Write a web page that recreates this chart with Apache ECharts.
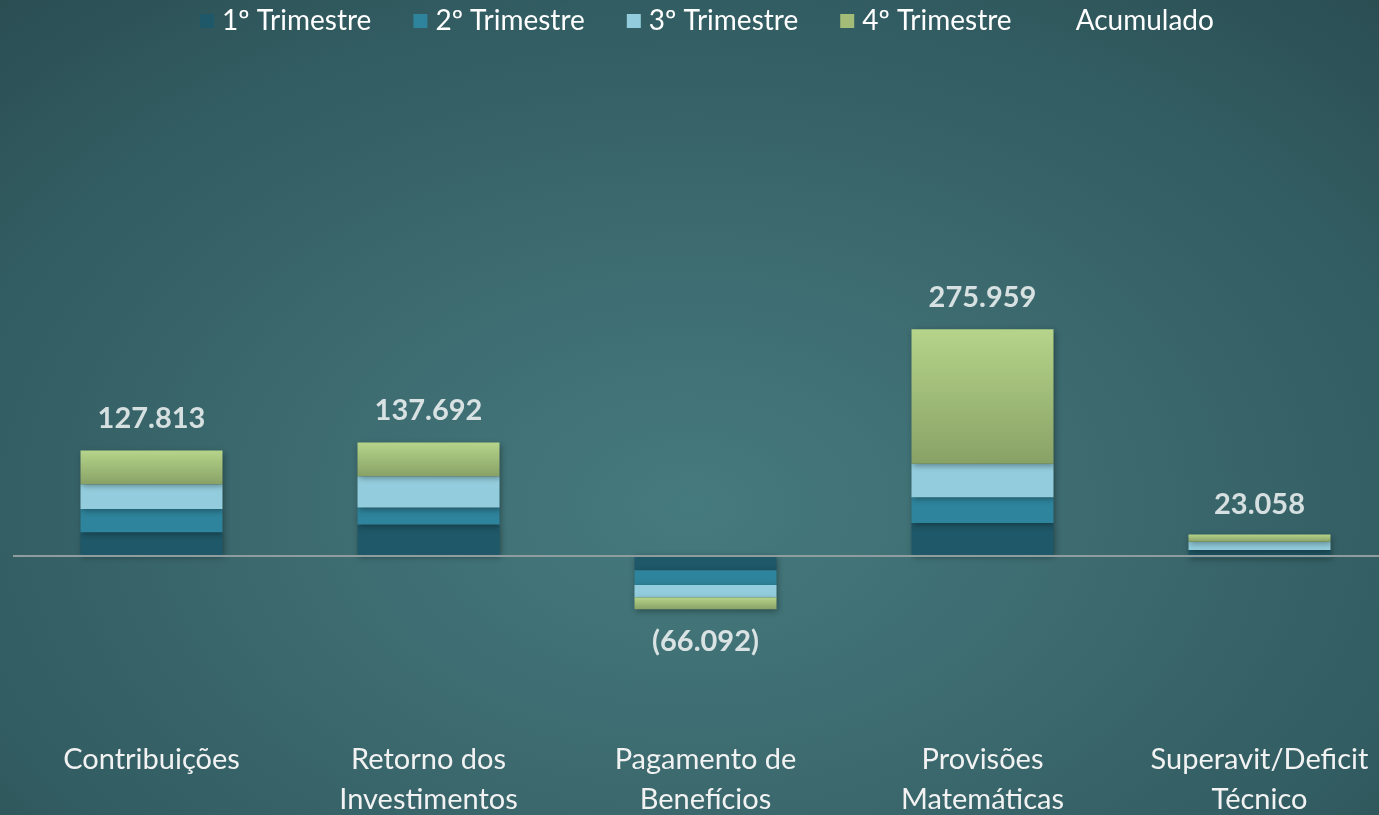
<!DOCTYPE html>
<html>
<head>
<meta charset="utf-8">
<script src="https://cdn.jsdelivr.net/npm/echarts@6/dist/echarts.min.js"></script>
<style>
html,body{margin:0;padding:0;width:1379px;height:815px;overflow:hidden;}
body{background:radial-gradient(ellipse 75% 85% at 50% 62%, #457a7e 0%, #3c6a6f 40%, #325d62 72%, #2a4d52 100%);}
#chart{width:1379px;height:815px;}
</style>
</head>
<body>
<div id="chart"></div>
<script>
const categories = ['Contribuições', 'Retorno dos\nInvestimentos', 'Pagamento de\nBenefícios', 'Provisões\nMatemáticas', 'Superavit/Deficit\nTécnico'];
const seriesNames = ['1º Trimestre', '2º Trimestre', '3º Trimestre', '4º Trimestre', 'Acumulado'];
const q1 = [28100, 37500, -18200, 39400, 6300];
const q2 = [28500, 20800, -18100, 31400, -2400];
const q3 = [30100, 38200, -15400, 41100, 10200];
const q4 = [41113, 41192, -14392, 164059, 8958];
const acumulado = [127813, 137692, -66092, 275959, 23058];

const FONT = 'Lato';
function fmt(v) {
  const s = Math.abs(v).toString().replace(/\B(?=(\d{3})+(?!\d))/g, '.');
  return v < 0 ? '(' + s + ')' : s;
}
const shadow = {shadowBlur: 6, shadowColor: 'rgba(0,0,0,0.35)', shadowOffsetY: 2, shadowOffsetX: 1};
const colors = [
  '#1f5868',
  '#2e849c',
  '#93cddd',
  {type: 'linear', x: 0, y: 0, x2: 0, y2: 1, colorStops: [{offset: 0, color: '#b6d48a'}, {offset: 1, color: '#88a266'}]}
];
const quarters = [q1, q2, q3, q4];
const series = quarters.map((d, i) => ({
  name: seriesNames[i],
  type: 'bar',
  stack: 'total',
  barWidth: 142,
  data: d,
  itemStyle: Object.assign({color: colors[i]}, shadow),
  emphasis: {disabled: true}
}));
series[0].markLine = {
  silent: true,
  symbol: 'none',
  label: {show: false},
  lineStyle: {color: '#8f9d9e', width: 2, type: 'solid'},
  data: [{yAxis: 0}],
  z: 10
};
series.push({
  name: seriesNames[4],
  type: 'scatter',
  symbolSize: 1,
  itemStyle: {color: 'rgba(0,0,0,0)'},
  data: acumulado.map(v => ({
    value: v,
    label: {position: v < 0 ? 'bottom' : 'top'}
  })),
  label: {
    show: true,
    distance: 17,
    color: '#ffffff',
    fontFamily: FONT,
    fontWeight: 'bold',
    fontSize: 29,
    formatter: p => fmt(p.value)
  },
  z: 5
});

const chart = echarts.init(document.getElementById('chart'), null, {renderer: 'canvas'});
chart.setOption({
  backgroundColor: 'transparent',
  animation: false,
  textStyle: {fontFamily: FONT},
  legend: {
    top: 7,
    left: 200,
    padding: 0,
    itemWidth: 14,
    itemHeight: 14,
    itemGap: 42,
    textStyle: {color: '#ffffff', fontSize: 28, fontFamily: FONT, padding: [0, 0, 0, 3]},
    data: [
      {name: seriesNames[0], icon: 'rect', itemStyle: {color: '#1f5868'}},
      {name: seriesNames[1], icon: 'rect', itemStyle: {color: '#2e849c'}},
      {name: seriesNames[2], icon: 'rect', itemStyle: {color: '#93cddd'}},
      {name: seriesNames[3], icon: 'rect', itemStyle: {color: '#a3bd78'}},
      {name: seriesNames[4], icon: 'rect', itemStyle: {color: 'rgba(0,0,0,0)'}}
    ]
  },
  grid: {left: 13, top: 64, width: 1385, height: 655, containLabel: false, outerBoundsMode: 'none'},
  xAxis: {
    type: 'category',
    data: categories,
    axisLine: {show: false, onZero: false},
    axisTick: {show: false},
    axisLabel: {
      color: '#f2f2f2',
      fontSize: 29,
      fontFamily: FONT,
      lineHeight: 40,
      margin: 21,
      interval: 0
    }
  },
  yAxis: {
    type: 'value',
    min: -200000,
    max: 600000,
    interval: 100000,
    show: false,
    splitLine: {show: false}
  },
  series: series
});
</script>
</body>
</html>
